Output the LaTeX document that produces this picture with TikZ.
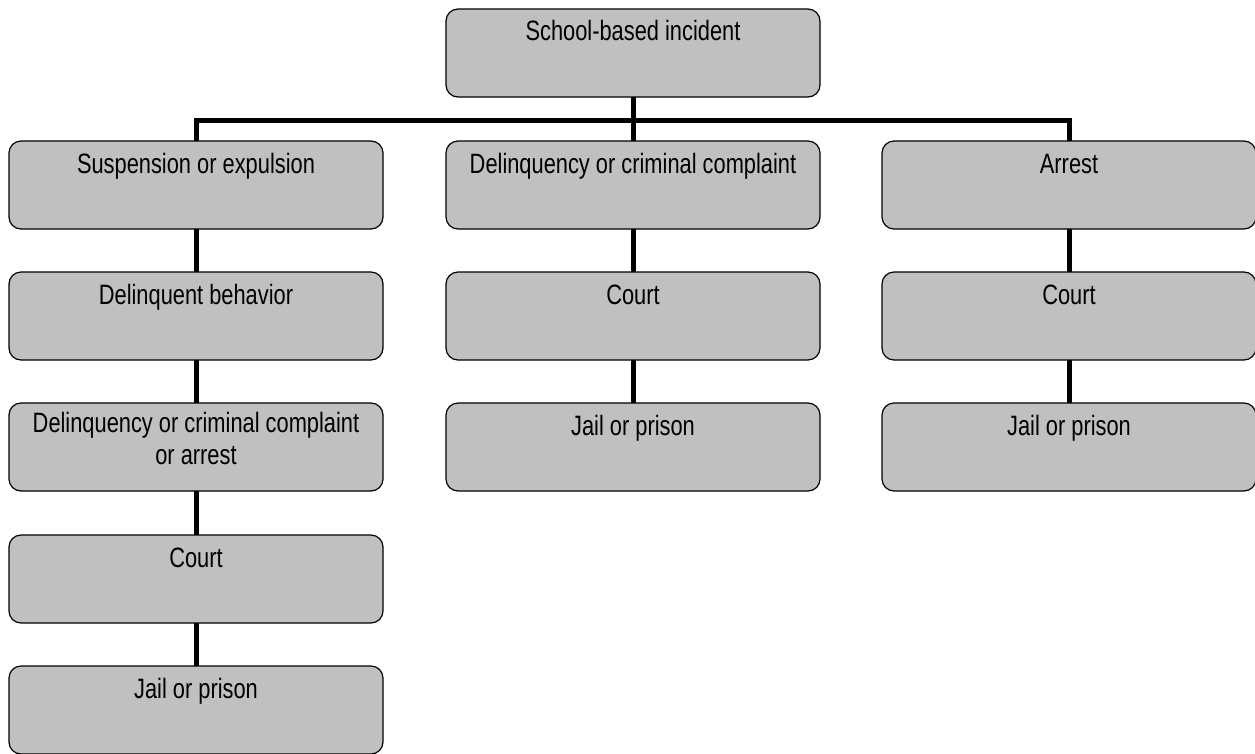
\documentclass[tikz,border=0pt]{standalone}
\usepackage{fontspec}
\setmainfont{Liberation Sans}[FakeStretch=0.78]
\definecolor{boxgray}{HTML}{C0C0C0}
\begin{document}
\begin{tikzpicture}[
  box/.style={draw=black, fill=boxgray, line width=1.2pt, rounded corners=12pt,
    minimum width=374pt, minimum height=88pt, inner sep=0pt, outer sep=0pt},
  txt/.style={anchor=base, align=center, inner sep=0pt, font=\fontsize{28}{31.7}\selectfont},
  conn/.style={draw=black, line width=5pt}
]
\useasboundingbox (0,0) rectangle (1255pt,-753pt);
% boxes
\node[box] (t)  at (633pt,-53pt) {};
\node[box] (a1) at (196pt,-185pt) {};
\node[box] (b1) at (633pt,-185pt) {};
\node[box] (c1) at (1069pt,-185pt) {};
\node[box] (a2) at (196pt,-316pt) {};
\node[box] (b2) at (633pt,-316pt) {};
\node[box] (c2) at (1069pt,-316pt) {};
\node[box] (a3) at (196pt,-447pt) {};
\node[box] (b3) at (633pt,-447pt) {};
\node[box] (c3) at (1069pt,-447pt) {};
\node[box] (a4) at (196pt,-579pt) {};
\node[box] (a5) at (196pt,-710pt) {};
% texts
\node[txt] (tt)  at ([yshift=-31pt]t.north)  {School-based incident};
\node[txt] (ta1) at ([yshift=-32pt]a1.north) {Suspension or expulsion};
\node[txt] (tb1) at ([yshift=-32pt]b1.north) {Delinquency or criminal complaint};
\node[txt] (tc1) at ([yshift=-32pt]c1.north) {Arrest};
\node[txt] (ta2) at ([yshift=-32pt]a2.north) {Delinquent behavior};
\node[txt] (tb2) at ([yshift=-32pt]b2.north) {Court};
\node[txt] (tc2) at ([yshift=-32pt]c2.north) {Court};
\node[txt, anchor=north] (ta3) at ([yshift=-9pt]a3.north) {Delinquency or criminal complaint\\or arrest};
\node[txt] (tb3) at ([yshift=-32pt]b3.north) {Jail or prison};
\node[txt] (tc3) at ([yshift=-32pt]c3.north) {Jail or prison};
\node[txt] (ta4) at ([yshift=-32pt]a4.north) {Court};
\node[txt] (ta5) at ([yshift=-32pt]a5.north) {Jail or prison};
% connectors
\draw[conn] (t.south) -- (b1.north);
\draw[conn] (a1.north) -- ++(0,21pt) -| (c1.north);
\draw[conn] (a1.south) -- (a2.north);
\draw[conn] (a2.south) -- (a3.north);
\draw[conn] (a3.south) -- (a4.north);
\draw[conn] (a4.south) -- (a5.north);
\draw[conn] (b1.south) -- (b2.north);
\draw[conn] (b2.south) -- (b3.north);
\draw[conn] (c1.south) -- (c2.north);
\draw[conn] (c2.south) -- (c3.north);
\end{tikzpicture}
\end{document}
